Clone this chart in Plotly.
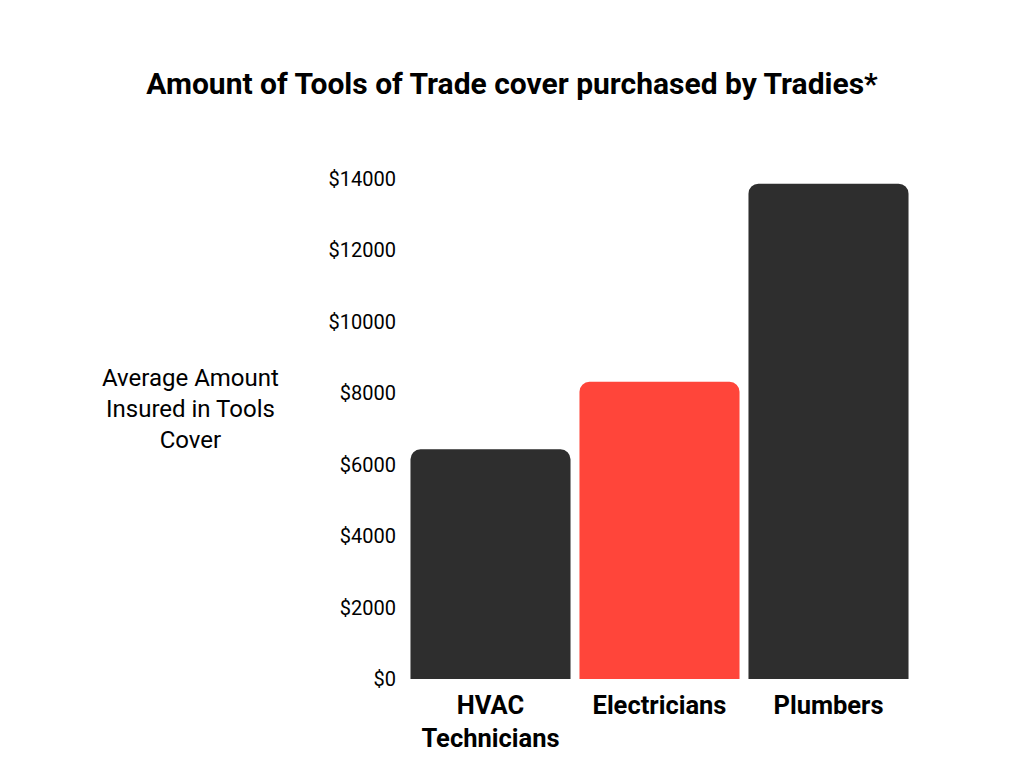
import plotly.graph_objects as go

categories = ["HVAC<br>Technicians", "Electricians", "Plumbers"]
values = [6430, 8320, 13870]
colors = ["#2e2e2e", "#ff453a", "#2e2e2e"]
tick_vals = [0, 2000, 4000, 6000, 8000, 10000, 12000, 14000]
tick_text = ["$" + str(v) for v in tick_vals]

FONT = "Roboto"
L, R, T, B = 398, 119, 171, 97
PW = 1024 - L - R
PH = 768 - T - B

fig = go.Figure(
    go.Bar(
        x=categories,
        y=values,
        marker=dict(color=colors, cornerradius=10, line=dict(width=0)),
        hoverinfo="skip",
    )
)

fig.update_layout(
    width=1024,
    height=768,
    paper_bgcolor="white",
    plot_bgcolor="white",
    margin=dict(l=L, r=R, t=T, b=B),
    bargap=0.053,
    showlegend=False,
    title=dict(
        text="<b>Amount of Tools of Trade cover purchased by Tradies*</b>",
        x=504 / 1024,
        xanchor="center",
        y=1 - 75 / 768,
        yanchor="middle",
        font=dict(family=FONT, size=30, color="#000000"),
    ),
    font=dict(family=FONT, color="#000000"),
)

fig.update_yaxes(
    range=[0, 14000],
    tickvals=tick_vals,
    ticktext=tick_text,
    showgrid=False,
    zeroline=False,
    showline=False,
    tickfont=dict(family=FONT, size=20, color="#000000"),
    ticklabelstandoff=9,
    fixedrange=True,
)

fig.update_xaxes(
    showgrid=False,
    showline=False,
    tickfont=dict(family=FONT, size=25.5, color="#000000"),
    tickprefix="<b>",
    ticksuffix="</b>",
    ticklabelstandoff=8,
    fixedrange=True,
)

fig.add_annotation(
    text="Average Amount<br>Insured in Tools<br>Cover",
    xref="paper",
    yref="paper",
    x=(182 - L) / PW,
    y=(768 - B - 401) / PH,
    xanchor="center",
    yanchor="middle",
    showarrow=False,
    align="center",
    font=dict(family=FONT, size=24, color="#000000"),
)

fig.write_html("out.html")
